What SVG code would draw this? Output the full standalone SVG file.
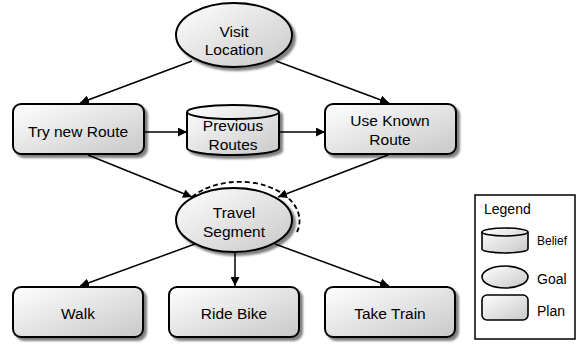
<svg xmlns="http://www.w3.org/2000/svg" width="577" height="344" viewBox="0 0 577 344">
  <defs>
    <linearGradient id="fillGrad" x1="0" y1="0" x2="1" y2="1">
      <stop offset="0" stop-color="#ffffff"/>
      <stop offset="1" stop-color="#c8c8c8"/>
    </linearGradient>
    <filter id="shadow" x="-20%" y="-20%" width="150%" height="150%">
      <feOffset in="SourceAlpha" dx="3" dy="3" result="off"/>
      <feGaussianBlur in="off" stdDeviation="1.2" result="blur"/>
      <feComponentTransfer in="blur" result="shade">
        <feFuncA type="linear" slope="0.5"/>
      </feComponentTransfer>
      <feMerge>
        <feMergeNode in="shade"/>
        <feMergeNode in="SourceGraphic"/>
      </feMerge>
    </filter>
    <marker id="arrow" viewBox="0 0 10 10" refX="10" refY="5" markerWidth="9" markerHeight="9" markerUnits="userSpaceOnUse" orient="auto">
      <path d="M0,0 L10,5 L0,10 z" fill="#000"/>
    </marker>
  </defs>
  <style>
    .shape { fill: url(#fillGrad); stroke: #000; stroke-width: 2; filter: url(#shadow); }
    .plain { fill: url(#fillGrad); stroke: #000; stroke-width: 1.6; }
    .edge { fill: none; stroke: #000; stroke-width: 1.5; marker-end: url(#arrow); }
    .dash { fill: none; stroke: #000; stroke-width: 1.8; stroke-dasharray: 5 3; }
    text { font-family: "Liberation Sans", Arial, sans-serif; font-size: 15.5px; fill: #000; text-anchor: middle; }
    .leg { text-anchor: start; }
  </style>

  <!-- connectors -->
  <g id="connectors">
    <line class="edge" x1="192" y1="61" x2="80" y2="103"/>
    <line class="edge" x1="276" y1="61" x2="389" y2="103"/>
    <line class="edge" x1="145" y1="132" x2="187" y2="132"/>
    <line class="edge" x1="280" y1="132" x2="325" y2="132"/>
    <line class="edge" x1="88" y1="155" x2="192" y2="197"/>
    <line class="edge" x1="388" y1="155" x2="278" y2="197"/>
    <line class="edge" x1="195" y1="244" x2="80" y2="286"/>
    <line class="edge" x1="235" y1="253" x2="235" y2="286"/>
    <line class="edge" x1="275" y1="244" x2="389" y2="286"/>
    <!-- dashed loop around Travel Segment -->
    <path class="dash" d="M192,197 A60,39 0 0 1 297,232"/>
  </g>

  <g id="visit-location">
    <ellipse class="shape" cx="234" cy="35" rx="58" ry="32"/>
    <text x="234" y="37">Visit</text>
    <text x="234" y="55">Location</text>
  </g>

  <g id="try-new-route">
    <rect class="shape" x="13" y="104" width="131" height="50" rx="8"/>
    <text x="78" y="137">Try new Route</text>
  </g>

  <g id="previous-routes">
    <path class="shape" d="M187,112 A46,7 0 0 1 279,112 L279,148 A46,7 0 0 1 187,148 Z"/>
    <path d="M187,112 A46,7 0 0 0 279,112" fill="none" stroke="#000" stroke-width="2"/>
    <text x="233" y="131">Previous</text>
    <text x="233" y="150">Routes</text>
  </g>

  <g id="use-known-route">
    <rect class="shape" x="325" y="104" width="131" height="50" rx="8"/>
    <text x="390" y="126">Use Known</text>
    <text x="390" y="145">Route</text>
  </g>

  <g id="travel-segment">
    <ellipse class="shape" cx="234" cy="220" rx="58" ry="32"/>
    <text x="234" y="218">Travel</text>
    <text x="234" y="237">Segment</text>
  </g>

  <g id="walk">
    <rect class="shape" x="13" y="287" width="130" height="50" rx="8"/>
    <text x="78" y="319">Walk</text>
  </g>

  <g id="ride-bike">
    <rect class="shape" x="169" y="287" width="130" height="50" rx="8"/>
    <text x="234" y="319">Ride Bike</text>
  </g>

  <g id="take-train">
    <rect class="shape" x="325" y="287" width="130" height="50" rx="8"/>
    <text x="390" y="319">Take Train</text>
  </g>

  <g id="legend">
    <rect x="475" y="195" width="100" height="144" fill="#fff" stroke="#000" stroke-width="1.5"/>
    <text class="leg" x="484" y="214" style="font-size:14px">Legend</text>
    <path class="plain" d="M482,232 A23,4 0 0 1 528,232 L528,249 A23,4 0 0 1 482,249 Z"/>
    <path d="M482,232 A23,4 0 0 0 528,232" fill="none" stroke="#000" stroke-width="1.6"/>
    <text class="leg" x="537" y="245" style="font-size:12px">Belief</text>
    <ellipse class="plain" cx="505" cy="277" rx="23" ry="11"/>
    <text class="leg" x="537" y="284" style="font-size:14px">Goal</text>
    <rect class="plain" x="482" y="295" width="46" height="25" rx="5"/>
    <text class="leg" x="537" y="316" style="font-size:14px">Plan</text>
  </g>
</svg>
